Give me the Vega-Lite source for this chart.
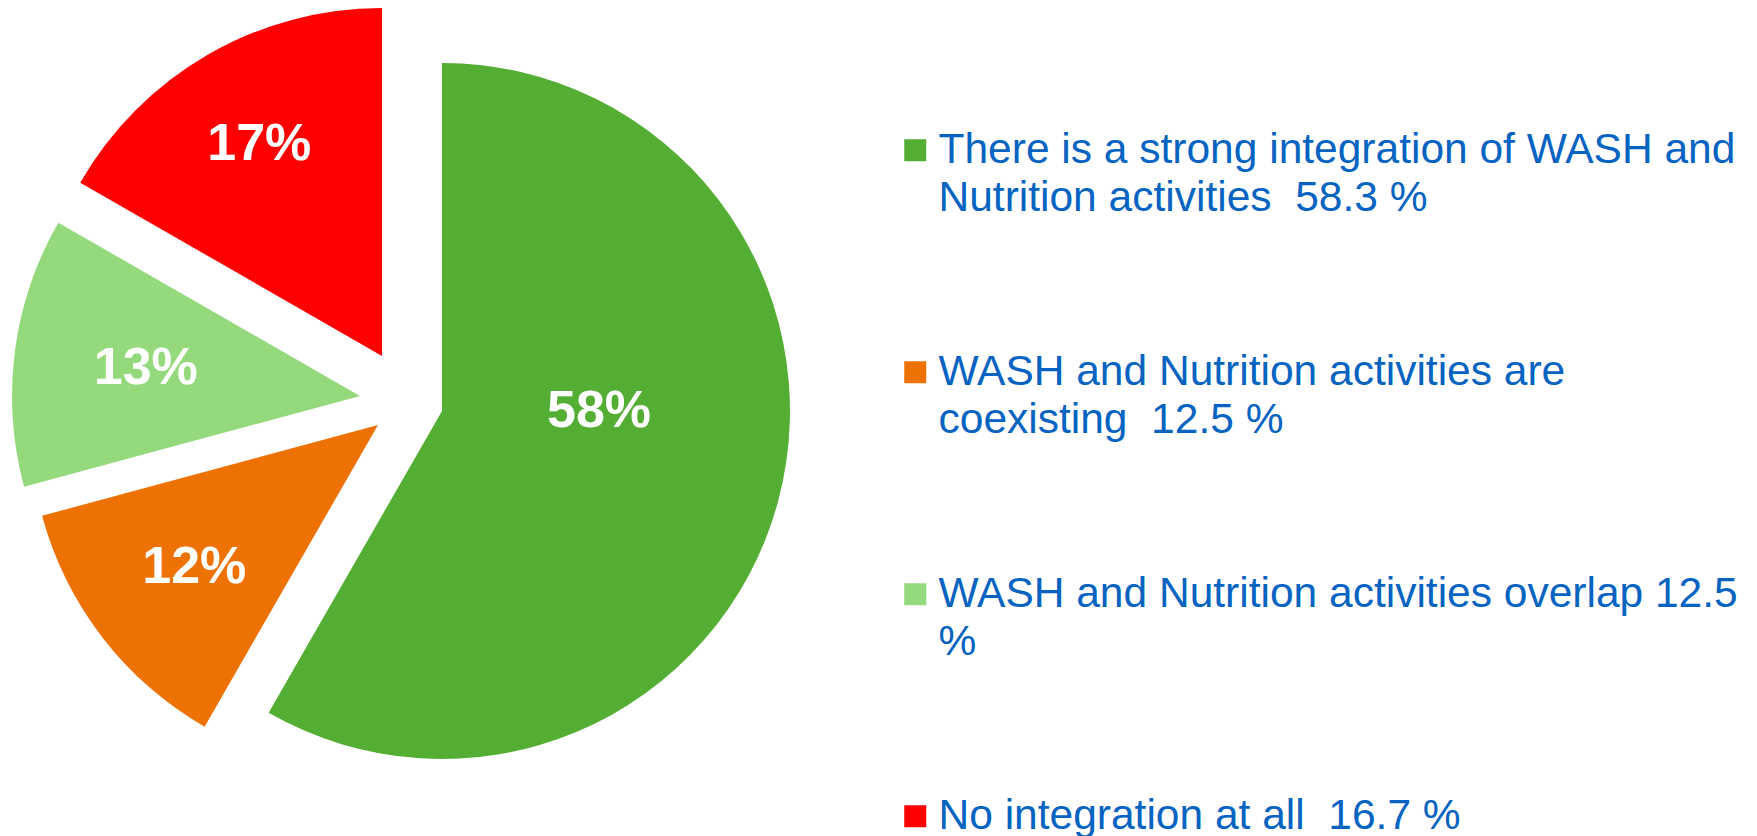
{
  "$schema": "https://vega.github.io/schema/vega-lite/v6.json",
  "width": 808,
  "height": 696,
  "autosize": {"type": "none"},
  "padding": {"left": 0, "top": 50, "right": 949, "bottom": 90},
  "background": "white",
  "config": {
    "view": {"stroke": null},
    "style": {"guide-label": {"lineHeight": 48}}
  },
  "data": {
    "values": [
      {"order": 1, "category": "There is a strong integration of WASH and\nNutrition activities \u00a058.3 %", "value": 58.3, "label": "58%"},
      {"order": 2, "category": "WASH and Nutrition activities are\ncoexisting \u00a012.5 %", "value": 12.5, "label": "12%"},
      {"order": 3, "category": "WASH and Nutrition activities overlap 12.5\n%", "value": 12.5, "label": "13%"},
      {"order": 4, "category": "No integration at all \u00a016.7 %", "value": 16.7, "label": "17%"}
    ]
  },
  "transform": [
    {"window": [{"op": "sum", "field": "value", "as": "end"}], "sort": [{"field": "order"}], "frame": [null, 0]},
    {"calculate": "datum.end - datum.value", "as": "start"},
    {"calculate": "(datum.start + datum.end) / 2", "as": "mid"}
  ],
  "encoding": {
    "color": {
      "field": "category",
      "type": "nominal",
      "scale": {
        "domain": [
          "There is a strong integration of WASH and\nNutrition activities \u00a058.3 %",
          "WASH and Nutrition activities are\ncoexisting \u00a012.5 %",
          "WASH and Nutrition activities overlap 12.5\n%",
          "No integration at all \u00a016.7 %"
        ],
        "range": ["#53AE33", "#EE7203", "#94DA7C", "#FF0000"]
      },
      "legend": {
        "orient": "none",
        "legendX": 894,
        "legendY": 79,
        "title": null,
        "padding": 0,
        "symbolType": "square",
        "symbolSize": 484,
        "symbolStrokeWidth": 0,
        "symbolOpacity": 1,
        "labelFont": "Liberation Sans",
        "labelFontSize": 42.5,
        "labelColor": "#0563C1",
        "labelOffset": 2,
        "labelLimit": 0,
        "labelBaseline": "middle",
        "labelExpr": "split(datum.label, '\\n')",
        "rowPadding": 131
      }
    }
  },
  "layer": [
    {
      "transform": [{"filter": "datum.order == 1"}],
      "mark": {"type": "arc", "xOffset": 38, "yOffset": 13},
      "encoding": {
        "theta": {"field": "start", "type": "quantitative", "stack": null, "scale": {"domain": [0, 100], "range": [0, 6.283185307179586]}},
        "theta2": {"field": "end"}
      }
    },
    {
      "transform": [{"filter": "datum.order == 2"}],
      "mark": {"type": "arc", "xOffset": -26, "yOffset": 27},
      "encoding": {
        "theta": {"field": "start", "type": "quantitative", "stack": null},
        "theta2": {"field": "end"}
      }
    },
    {
      "transform": [{"filter": "datum.order == 3"}],
      "mark": {"type": "arc", "xOffset": -44, "yOffset": -2},
      "encoding": {
        "theta": {"field": "start", "type": "quantitative", "stack": null},
        "theta2": {"field": "end"}
      }
    },
    {
      "transform": [{"filter": "datum.order == 4"}],
      "mark": {"type": "arc", "xOffset": -22, "yOffset": -42},
      "encoding": {
        "theta": {"field": "start", "type": "quantitative", "stack": null},
        "theta2": {"field": "end"}
      }
    },
    {
      "transform": [{"filter": "datum.order == 1"}],
      "mark": {"type": "text", "radius": 157, "theta": 1.5708, "xOffset": 38, "yOffset": 13, "font": "Liberation Sans", "fontSize": 52, "fontWeight": "bold", "align": "center", "baseline": "middle"},
      "encoding": {"text": {"field": "label"}, "color": {"value": "white"}}
    },
    {
      "transform": [{"filter": "datum.order == 2"}],
      "mark": {"type": "text", "radius": 232, "xOffset": -26, "yOffset": 27, "font": "Liberation Sans", "fontSize": 52, "fontWeight": "bold", "align": "center", "baseline": "middle"},
      "encoding": {"theta": {"field": "mid", "type": "quantitative", "stack": null}, "text": {"field": "label"}, "color": {"value": "white"}}
    },
    {
      "transform": [{"filter": "datum.order == 3"}],
      "mark": {"type": "text", "radius": 216, "xOffset": -44, "yOffset": -2, "font": "Liberation Sans", "fontSize": 52, "fontWeight": "bold", "align": "center", "baseline": "middle"},
      "encoding": {"theta": {"field": "mid", "type": "quantitative", "stack": null}, "text": {"field": "label"}, "color": {"value": "white"}}
    },
    {
      "transform": [{"filter": "datum.order == 4"}],
      "mark": {"type": "text", "radius": 245, "xOffset": -22, "yOffset": -42, "font": "Liberation Sans", "fontSize": 52, "fontWeight": "bold", "align": "center", "baseline": "middle"},
      "encoding": {"theta": {"field": "mid", "type": "quantitative", "stack": null}, "text": {"field": "label"}, "color": {"value": "white"}}
    }
  ]
}
